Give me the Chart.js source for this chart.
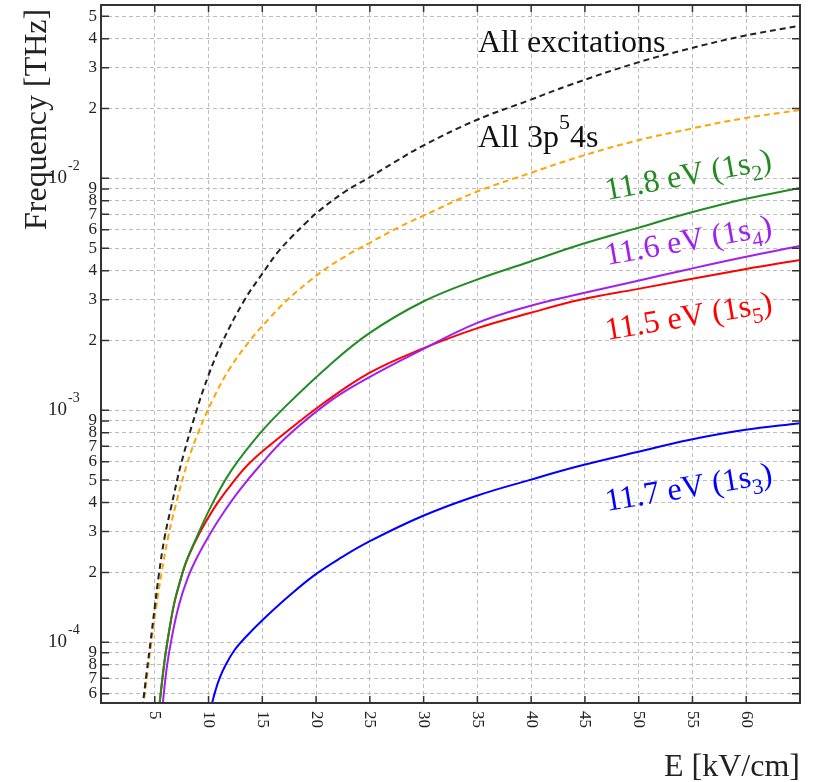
<!DOCTYPE html>
<html>
<head>
<meta charset="utf-8">
<script src="https://cdn.jsdelivr.net/npm/chart.js@4.4.1/dist/chart.umd.min.js"></script>
<style>
  html, body { margin: 0; padding: 0; background: #fff; }
</style>
</head>
<body>
<canvas id="freqChart" width="813" height="782"></canvas>
<script>
// field E [kV/cm] and frequency [THz]
const allExcE = [3.85, 4.25, 4.60, 5.00, 5.39, 5.92, 6.57, 7.47, 8.87, 10.01, 11.24, 13.35, 15.05, 16.42, 17.81, 19.02, 20.31, 22.64, 24.96, 27.37, 29.91, 34.87, 39.81, 43.53, 49.72, 54.67, 59.62, 65];
const allExcF = [5.2e-5, 7.44e-5, 1.0e-4, 1.42e-4, 1.97e-4, 2.84e-4, 3.91e-4, 5.93e-4, 9.93e-4, 1.42e-3, 1.95e-3, 2.99e-3, 3.91e-3, 4.79e-3, 5.64e-3, 6.41e-3, 7.26e-3, 8.73e-3, 1.01e-2, 1.18e-2, 1.38e-2, 1.78e-2, 2.17e-2, 2.52e-2, 3.14e-2, 3.62e-2, 4.10e-2, 4.55e-2];

const all4sE = [3.9, 4.35, 4.69, 5.13, 5.62, 6.23, 6.95, 7.94, 8.99, 10.47, 11.96, 13.82, 15.68, 17.22, 19.39, 21.15, 23.10, 24.96, 27.74, 29.91, 34.87, 39.81, 44.74, 49.72, 54.67, 59.62, 65];
const all4sF = [5.2e-5, 7.51e-5, 1.0e-4, 1.41e-4, 1.97e-4, 2.82e-4, 3.91e-4, 5.75e-4, 7.91e-4, 1.13e-3, 1.51e-3, 1.99e-3, 2.50e-3, 2.96e-3, 3.61e-3, 4.15e-3, 4.72e-3, 5.26e-3, 6.17e-3, 6.88e-3, 8.73e-3, 1.05e-2, 1.25e-2, 1.45e-2, 1.63e-2, 1.81e-2, 1.97e-2];

const s2E = [5.4, 5.92, 6.39, 6.85, 7.32, 7.88, 8.90, 10.38, 12.14, 14.74, 17.25, 21.15, 24.96, 29.88, 34.89, 39.81, 44.46, 49.84, 54.67, 59.87, 65];
const s2F = [5.2e-5, 8.37e-5, 1.16e-4, 1.50e-4, 1.80e-4, 2.20e-4, 2.84e-4, 3.98e-4, 5.52e-4, 7.91e-4, 1.05e-3, 1.55e-3, 2.15e-3, 2.93e-3, 3.65e-3, 4.36e-3, 5.16e-3, 6.10e-3, 7.09e-3, 8.15e-3, 9.08e-3];

const s5E = [5.4, 5.92, 6.40, 6.85, 7.78, 8.71, 9.64, 10.84, 12.14, 13.82, 16.79, 20.78, 24.96, 29.6, 34.87, 39.81, 44.46, 49.84, 59.87, 65];
const s5F = [5.2e-5, 8.37e-5, 1.16e-4, 1.50e-4, 2.13e-4, 2.68e-4, 3.24e-4, 3.99e-4, 4.81e-4, 5.93e-4, 7.76e-4, 1.08e-3, 1.45e-3, 1.82e-3, 2.25e-3, 2.62e-3, 2.99e-3, 3.33e-3, 4.06e-3, 4.45e-3];

const s4E = [5.7, 6.11, 6.57, 7.22, 8.06, 8.99, 10.19, 11.49, 12.89, 14.74, 17.25, 21.24, 24.96, 29.6, 34.89, 39.81, 44.46, 49.84, 54.67, 59.87, 65];
const s4F = [5.2e-5, 7.74e-5, 1.04e-4, 1.43e-4, 1.89e-4, 2.35e-4, 2.96e-4, 3.68e-4, 4.53e-4, 5.75e-4, 7.67e-4, 1.09e-3, 1.39e-3, 1.80e-3, 2.37e-3, 2.81e-3, 3.17e-3, 3.61e-3, 4.06e-3, 4.58e-3, 5.11e-3];

const s3E = [10.3, 10.66, 11.03, 11.59, 12.42, 13.35, 15.05, 17.53, 20.01, 22.36, 24.96, 29.91, 34.87, 39.81, 44.46, 49.87, 54.67, 59.78, 65];
const s3F = [5.4e-5, 6.23e-5, 7.01e-5, 7.98e-5, 9.26e-5, 1.04e-4, 1.25e-4, 1.59e-4, 1.97e-4, 2.32e-4, 2.72e-4, 3.50e-4, 4.27e-4, 5.0e-4, 5.75e-4, 6.61e-4, 7.45e-4, 8.22e-4, 8.8e-4];

// axis ticks
const xTicks = [5, 10, 15, 20, 25, 30, 35, 40, 45, 50, 55, 60];
const yTicks = [6e-5, 7e-5, 8e-5, 9e-5,
  1e-4, 2e-4, 3e-4, 4e-4, 5e-4, 6e-4, 7e-4, 8e-4, 9e-4,
  1e-3, 2e-3, 3e-3, 4e-3, 5e-3, 6e-3, 7e-3, 8e-3, 9e-3,
  1e-2, 2e-2, 3e-2, 4e-2, 5e-2];

const SERIF = '"Liberation Serif", "Times New Roman", serif';

function pts(xs, ys) {
  return xs.map((v, i) => ({ x: v, y: ys[i] }));
}

// text with a sub- or superscript piece in the middle
function drawTag(ctx, x, y, deg, color, head, mid, tail, shift) {
  ctx.save();
  ctx.translate(x, y);
  ctx.rotate(deg * Math.PI / 180);
  ctx.fillStyle = color;
  ctx.textAlign = 'left';
  ctx.textBaseline = 'alphabetic';
  ctx.font = '32px ' + SERIF;
  ctx.fillText(head, 0, 0);
  let w = ctx.measureText(head).width;
  ctx.font = '22px ' + SERIF;
  ctx.fillText(mid, w, shift);
  w += ctx.measureText(mid).width;
  ctx.font = '32px ' + SERIF;
  ctx.fillText(tail, w, 0);
  ctx.restore();
}

const framePlugin = {
  id: 'frame',
  afterDraw(chart) {
    const { ctx, chartArea: a, scales: { x, y } } = chart;
    ctx.save();

    // box
    ctx.strokeStyle = '#333';
    ctx.lineWidth = 2;
    ctx.strokeRect(a.left, a.top, a.right - a.left, a.bottom - a.top);

    // tick marks pointing inwards
    ctx.lineWidth = 1.5;
    ctx.beginPath();
    xTicks.forEach(v => {
      const px = x.getPixelForValue(v);
      ctx.moveTo(px, a.bottom); ctx.lineTo(px, a.bottom - 7);
      ctx.moveTo(px, a.top); ctx.lineTo(px, a.top + 7);
    });
    yTicks.forEach(v => {
      const py = y.getPixelForValue(v);
      ctx.moveTo(a.left, py); ctx.lineTo(a.left + 8, py);
      ctx.moveTo(a.right, py); ctx.lineTo(a.right - 8, py);
    });
    ctx.stroke();

    // x labels, turned clockwise
    ctx.fillStyle = '#222';
    ctx.font = '17px ' + SERIF;
    xTicks.forEach(v => {
      ctx.save();
      ctx.translate(x.getPixelForValue(v), a.bottom + 8);
      ctx.rotate(Math.PI / 2);
      ctx.textAlign = 'left';
      ctx.textBaseline = 'middle';
      ctx.fillText(String(v), 0, 0);
      ctx.restore();
    });

    // y labels: 10^n on decades, digit otherwise
    yTicks.forEach(v => {
      const py = y.getPixelForValue(v);
      const exp = Math.floor(Math.log10(v) + 1e-9);
      const mant = Math.round(v / Math.pow(10, exp));
      if (mant === 1) {
        ctx.textAlign = 'right';
        ctx.textBaseline = 'alphabetic';
        ctx.font = '19px ' + SERIF;
        ctx.fillText('10', 67, py + 5);
        ctx.textAlign = 'left';
        ctx.font = '14px ' + SERIF;
        ctx.fillText(String(exp), 68, py - 8);
      } else {
        ctx.textAlign = 'right';
        ctx.textBaseline = 'middle';
        ctx.font = '17px ' + SERIF;
        ctx.fillText(String(mant), 97, py);
      }
    });

    // axis titles
    ctx.font = '32px ' + SERIF;
    ctx.textBaseline = 'alphabetic';
    ctx.save();
    ctx.translate(46, 230);
    ctx.rotate(-Math.PI / 2);
    ctx.textAlign = 'left';
    ctx.fillText('Frequency [THz]', 0, 0);
    ctx.restore();
    ctx.textAlign = 'right';
    ctx.fillText('E [kV/cm]', 800, 776);

    // curve labels
    ctx.textAlign = 'left';
    ctx.fillStyle = '#111';
    ctx.fillText('All excitations', 478, 52);
    drawTag(ctx, 478, 147, 0, '#111', 'All 3p', '5', '4s', -18);
    drawTag(ctx, 607, 200, -10.5, '#228B22', '11.8 eV (1s', '2', ')', 8);
    drawTag(ctx, 607, 265, -10, '#A020F0', '11.6 eV (1s', '4', ')', 8);
    drawTag(ctx, 607, 340, -9.5, '#FF0000', '11.5 eV (1s', '5', ')', 8);
    drawTag(ctx, 607, 511, -9.5, '#0000FF', '11.7 eV (1s', '3', ')', 8);

    ctx.restore();
  }
};

const ctx = document.getElementById('freqChart').getContext('2d');
new Chart(ctx, {
  type: 'line',
  data: {
    datasets: [
      { label: 'All excitations', data: pts(allExcE, allExcF), borderColor: '#222', borderDash: [6, 4] },
      { label: 'All 3p54s', data: pts(all4sE, all4sF), borderColor: '#FFA500', borderDash: [6, 4] },
      { label: '11.8 eV (1s2)', data: pts(s2E, s2F), borderColor: '#228B22' },
      { label: '11.6 eV (1s4)', data: pts(s4E, s4F), borderColor: '#A020F0' },
      { label: '11.5 eV (1s5)', data: pts(s5E, s5F), borderColor: '#FF0000' },
      { label: '11.7 eV (1s3)', data: pts(s3E, s3F), borderColor: '#0000FF' }
    ]
  },
  options: {
    responsive: false,
    animation: false,
    layout: { padding: { left: 101, right: 13, top: 5, bottom: 79 } },
    elements: {
      line: { borderWidth: 2, tension: 0.4, fill: false },
      point: { radius: 0, hoverRadius: 0 }
    },
    plugins: {
      legend: { display: false },
      tooltip: { enabled: false }
    },
    scales: {
      x: {
        type: 'linear',
        min: 0,
        max: 65,
        ticks: { display: false, stepSize: 5 },
        grid: { color: '#bdbdbd', lineWidth: 1, drawTicks: false },
        border: { display: false, dash: [4, 3] }
      },
      y: {
        type: 'logarithmic',
        min: 5.47e-5,
        max: 5.59e-2,
        afterBuildTicks: axis => { axis.ticks = yTicks.map(v => ({ value: v })); },
        ticks: { display: false },
        grid: { color: '#bdbdbd', lineWidth: 1, drawTicks: false },
        border: { display: false, dash: [4, 3] }
      }
    }
  },
  plugins: [framePlugin]
});
</script>
</body>
</html>
